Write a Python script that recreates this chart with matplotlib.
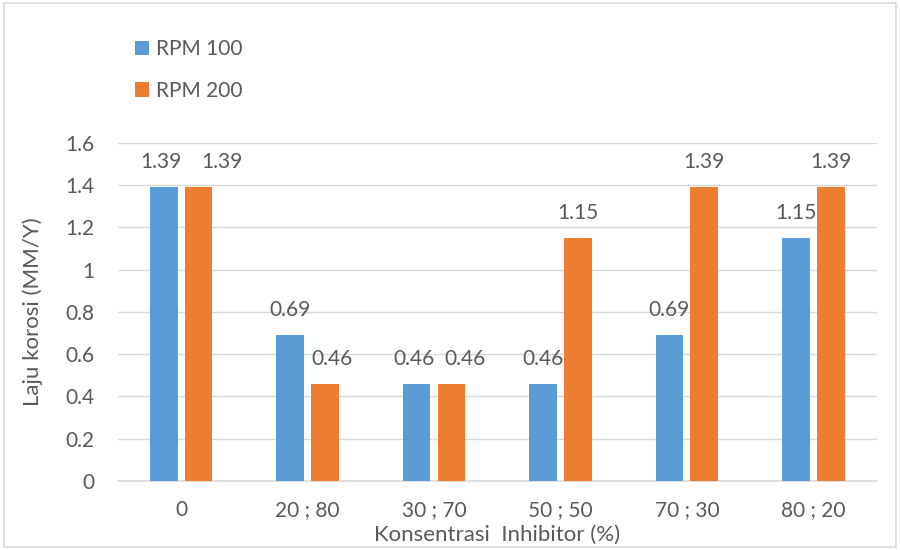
import matplotlib
matplotlib.use("Agg")
import matplotlib.pyplot as plt
from matplotlib.patches import Rectangle
import numpy as np

plt.rcParams['font.family'] = ['Lato', 'DejaVu Sans']

categories = ['0', '20 ; 80', '30 ; 70', '50 ; 50', '70 ; 30', '80 ; 20']
rpm_100 = [1.39, 0.69, 0.46, 0.46, 0.69, 1.15]
rpm_200 = [1.39, 0.46, 0.46, 1.15, 1.39, 1.39]
series_names = ['RPM 100', 'RPM 200']

BLUE = '#5B9BD5'
ORANGE = '#ED7D31'
TEXT = '#595959'
GRID = '#D9D9D9'

fig = plt.figure(figsize=(9, 5.5), dpi=100)
ax = fig.add_axes([0.131, 0.1255, 0.843, 0.6145])

x = np.arange(len(categories))
w = 0.22
off = 0.138
b1 = ax.bar(x - off, rpm_100, w, color=BLUE, label=series_names[0], zorder=3)
b2 = ax.bar(x + off, rpm_200, w, color=ORANGE, label=series_names[1], zorder=3)

# value labels; push them apart when both bars in a group are about the same height
for i in range(len(categories)):
    v1, v2 = rpm_100[i], rpm_200[i]
    dx1, dx2 = 0, 0
    if abs(v1 - v2) < 0.05:
        dx1, dx2 = -2, 10 if v1 < 1 else 17
    elif v1 > v2 and v1 - v2 < 0.3:
        dx2 = 5
    ax.annotate(f'{v1:.2f}', (x[i] - off, v1), xytext=(dx1, 11), textcoords='offset points',
                ha='center', va='bottom', fontsize=15, color=TEXT)
    ax.annotate(f'{v2:.2f}', (x[i] + off, v2), xytext=(dx2, 11), textcoords='offset points',
                ha='center', va='bottom', fontsize=15, color=TEXT)

ax.set_xlim(-0.5, len(categories) - 0.5)
ax.set_ylim(0, 1.6)
ax.set_yticks(np.arange(0, 1.61, 0.2))
ax.set_yticklabels(['0', '0.2', '0.4', '0.6', '0.8', '1', '1.2', '1.4', '1.6'])
ax.set_xticks(x)
ax.set_xticklabels(categories)
ax.tick_params(axis='both', length=0, labelsize=15, colors=TEXT)
ax.tick_params(axis='x', pad=14)
ax.tick_params(axis='y', pad=17)
ax.grid(axis='y', color=GRID, linewidth=1, zorder=0)
for side in ['top', 'right', 'left']:
    ax.spines[side].set_visible(False)
ax.spines['bottom'].set_color(GRID)
ax.spines['bottom'].set_linewidth(1.2)

ax.set_xlabel('Konsentrasi  Inhibitor (%)', fontsize=16, color=TEXT, labelpad=3)
ax.set_ylabel('Laju korosi (MM/Y)', fontsize=16, color=TEXT, labelpad=16)

leg = fig.legend(handles=[b1, b2], loc='upper left', bbox_to_anchor=(0.129, 0.963),
                 frameon=False, fontsize=15, labelspacing=1.05, handlelength=0.7,
                 handleheight=0.7, handletextpad=0.3, labelcolor=TEXT)

fig.patches.append(Rectangle((0.004, 0.006), 0.992, 0.988, transform=fig.transFigure,
                             fill=False, edgecolor='#D9D9D9', linewidth=1.2))

fig.savefig('out.png', dpi=100)
